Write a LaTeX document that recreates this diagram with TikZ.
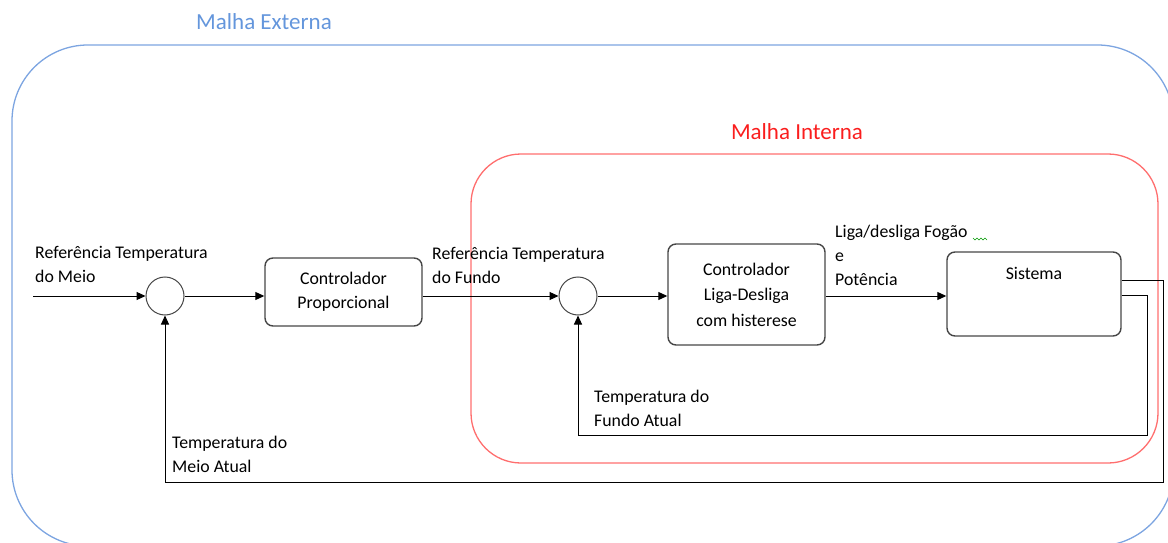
\documentclass[tikz,border=0pt]{standalone}
\usepackage{fontspec}
\setmainfont{Carlito}
\usetikzlibrary{arrows.meta}
\definecolor{outerblue}{RGB}{125,165,225}
\definecolor{outertext}{RGB}{100,150,220}
\definecolor{innerred}{RGB}{255,110,110}
\definecolor{innertext}{RGB}{250,30,30}
\definecolor{boxgray}{RGB}{70,70,70}
\begin{document}
\begin{tikzpicture}[x=1pt,y=-1pt,
  every node/.style={font=\fontsize{17.8}{24}\selectfont},
  block/.style={draw=boxgray, line width=1.4pt, rounded corners=8pt, align=center, inner sep=0pt},
  sumnode/.style={draw=boxgray, line width=1pt, circle, minimum size=38pt, inner sep=0pt},
  lbl/.style={align=left, anchor=west, inner sep=0pt},
  conn/.style={line width=1pt, -{Triangle[length=9pt,width=8pt]}},
  looplbl/.style={font=\fontsize{23}{26}\selectfont, inner sep=0pt}
]
\useasboundingbox (0,0) rectangle (1168,543);
% loops
\draw[outerblue, line width=1.3pt, rounded corners=76pt] (12,45) rectangle (1173.5,546);
\node[looplbl, text=outertext] (outerlbl) at (264,22) {Malha Externa};
\draw[innerred, line width=1.3pt, rounded corners=50pt] (471,154) rectangle (1158,463);
\node[looplbl, text=innertext] (innerlbl) at (797,132) {Malha Interna};
% blocks
\node[sumnode] (s1) at (165,296) {};
\node[sumnode] (s2) at (578,296) {};
\node[block, minimum width=157pt, minimum height=68pt] (p) at (343.5,292) {Controlador\\Proporcional};
\node[block, minimum width=157pt, minimum height=101pt] (c) at (746.5,294.5) {Controlador\\[1.5pt]Liga-Desliga\\[1.5pt]com histerese};
\node[block, minimum width=174pt, minimum height=84pt] (sis) at (1034,294) {};
\node (sislbl) at (1034,273) {Sistema};
% connectors
\coordinate (in) at (33,296);
\coordinate (oc) at (1163,482);
\coordinate (ic) at (1147,435);
\draw[conn] (in) -- (s1.west);
\draw[conn] (s1.east) -- (s1.east -| p.west);
\draw[conn] (s1.east -| p.east) -- (s2.west);
\draw[conn] (s2.east) -- (s2.east -| c.west);
\draw[conn] (s2.east -| c.east) -- (s2.east -| sis.west);
\draw[conn] ([yshift=14pt]sis.east) -| (oc) -| (s1.south);
\draw[conn] ([yshift=-1pt]sis.east) -| (ic) -| (s2.south);
% labels
\node[lbl] (lrefm) at (35,264) {Referência Temperatura\\do Meio};
\node[lbl] (lreff) at (432,265.5) {Referência Temperatura\\do Fundo};
\node[lbl] (lliga) at (835,255) {Liga/desliga Fogão\\e\\Potência};
\node[lbl] (lfundo) at (594,408) {Temperatura do\\Fundo Atual};
\node[lbl] (lmeio) at (172,454.5) {Temperatura do\\Meio Atual};
% spell-check squiggle
\draw[green!60!black, line width=0.6pt] (973,238) -- (975,240) -- (977,238) -- (979,240) -- (981,238) -- (983,240) -- (985,238) -- (987,240);
\end{tikzpicture}
\end{document}
